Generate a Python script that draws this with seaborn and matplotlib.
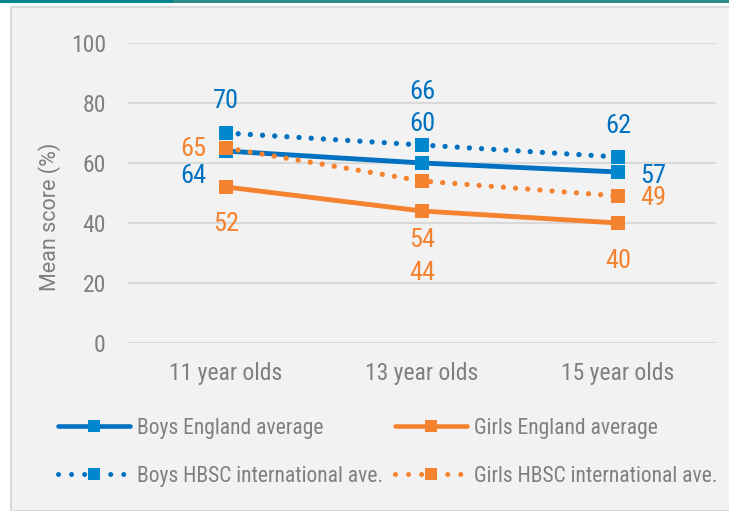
import numpy as np
import pandas as pd
import matplotlib
matplotlib.use("Agg")
import matplotlib.pyplot as plt
from matplotlib.patches import Rectangle
from matplotlib.lines import Line2D
import seaborn as sns

# ── data ─────────────────────────────────────────────
ages = ["11 year olds", "13 year olds", "15 year olds"]
boys_england = [64, 60, 57]
girls_england = [52, 44, 40]
boys_hbsc = [70, 66, 62]
girls_hbsc = [65, 54, 49]

series_names = ["Boys England average", "Girls England average",
                "Boys HBSC international ave.", "Girls HBSC international ave."]

# ── style ────────────────────────────────────────────
sns.set_style("white")
COND = ['Roboto Condensed', 'Liberation Sans Narrow', 'Roboto', 'DejaVu Sans']
plt.rcParams['font.family'] = COND

BLUE = "#0070C0"
BLUE_MK = "#0088CE"
ORANGE = "#F5822F"
GREY_TXT = "#7F7F7F"
PANEL = "#F2F2F2"

fig = plt.figure(figsize=(7.29, 5.11), dpi=100)
fig.patch.set_facecolor("white")

# panel background + teal strip at the top
fig.add_artist(Rectangle((11 / 729, 0), 1, 504 / 511, transform=fig.transFigure,
                         facecolor=PANEL, edgecolor="#D9D9D9", linewidth=1.5, zorder=0))
fig.add_artist(Rectangle((0, 1 - 3 / 511), 173 / 729, 3 / 511, transform=fig.transFigure,
                         facecolor="#00868A", edgecolor="none", zorder=0))
fig.add_artist(Rectangle((173 / 729, 1 - 3 / 511), 1, 3 / 511, transform=fig.transFigure,
                         facecolor="#2E8A87", edgecolor="none", zorder=0))

ax = fig.add_axes([128 / 729, 1 - 343 / 511, 588 / 729, 300 / 511])
ax.set_facecolor(PANEL)

dot = (0, (0.01, 2.3))
styles = [
    (boys_england, BLUE, BLUE_MK, "-", 3.5),
    (girls_england, ORANGE, ORANGE, "-", 3.5),
    (boys_hbsc, BLUE, BLUE_MK, dot, 3.8),
    (girls_hbsc, ORANGE, ORANGE, dot, 3.8),
]

x = np.arange(len(ages))
for (vals, col, mcol, ls, lw), name in zip(styles, series_names):
    df = pd.DataFrame({"age": x, "score": vals})
    sns.lineplot(data=df, x="age", y="score", ax=ax, color=col, linewidth=lw,
                 linestyle=ls, marker="s", markersize=10, markerfacecolor=mcol,
                 markeredgecolor=mcol, markeredgewidth=0, dash_capstyle="round",
                 solid_capstyle="round", label=name, legend=False)

# ── value labels (offsets in pixels) ─────────────────
label_offsets = {
    0: [(-33, -22), (0, 42), (35, -1)],
    1: [(0, -34), (0, -59), (0, -35)],
    2: [(0, 35), (0, 56), (0, 34)],
    3: [(-33, 2), (0, -56), (35, 1)],
}
for i, (vals, col, _, _, _) in enumerate(styles):
    for j, v in enumerate(vals):
        ax.annotate(f"{v}", (x[j], v), xytext=label_offsets[i][j], textcoords="offset pixels",
                    ha="center", va="center_baseline", fontsize=19, color=col)

# ── axes ─────────────────────────────────────────────
ax.set_xlim(-0.5, 2.5)
ax.set_ylim(0, 100)
ax.set_yticks(range(0, 101, 20))
ax.set_xticks(x)
ax.set_xticklabels(ages)
ax.yaxis.grid(True, color="#D9D9D9", linewidth=1.5)
ax.set_axisbelow(True)
for s in ax.spines.values():
    s.set_visible(False)
ax.tick_params(axis="both", length=0, labelsize=17, labelcolor=GREY_TXT)
ax.tick_params(axis="y", pad=16)
ax.tick_params(axis="x", pad=14)
ax.set_xlabel("")
ax.set_ylabel("Mean score (%)", fontsize=15.5, color=GREY_TXT, labelpad=7,
              family=['Roboto', 'DejaVu Sans'])
ax.yaxis.label.set_y(0.42)

# ── legend (two columns, built by hand) ──────────────
def handle(col, mcol, ls, lw):
    return Line2D([], [], color=col, linewidth=lw, linestyle=ls, marker="s", markersize=8,
                  markerfacecolor=mcol, markeredgewidth=0, dash_capstyle="round",
                  solid_capstyle="round")

leg_dot = (0, (0.01, 2.6))
leg_kw = dict(frameon=False, fontsize=15.5, labelcolor=GREY_TXT, handlelength=3.35,
              handletextpad=0.33, labelspacing=1.25, borderpad=0, borderaxespad=0)
leg1 = fig.legend([handle(BLUE, BLUE_MK, "-", 3.3), handle(BLUE, BLUE_MK, leg_dot, 3.6)],
                  [series_names[0], series_names[2]], loc="upper left",
                  bbox_to_anchor=(58 / 729, 1 - 418 / 511), **leg_kw)
leg2 = fig.legend([handle(ORANGE, ORANGE, "-", 3.3), handle(ORANGE, ORANGE, leg_dot, 3.6)],
                  [series_names[1], series_names[3]], loc="upper left",
                  bbox_to_anchor=(395 / 729, 1 - 418 / 511), **leg_kw)

fig.savefig("out.png", dpi=100, facecolor=fig.get_facecolor())
